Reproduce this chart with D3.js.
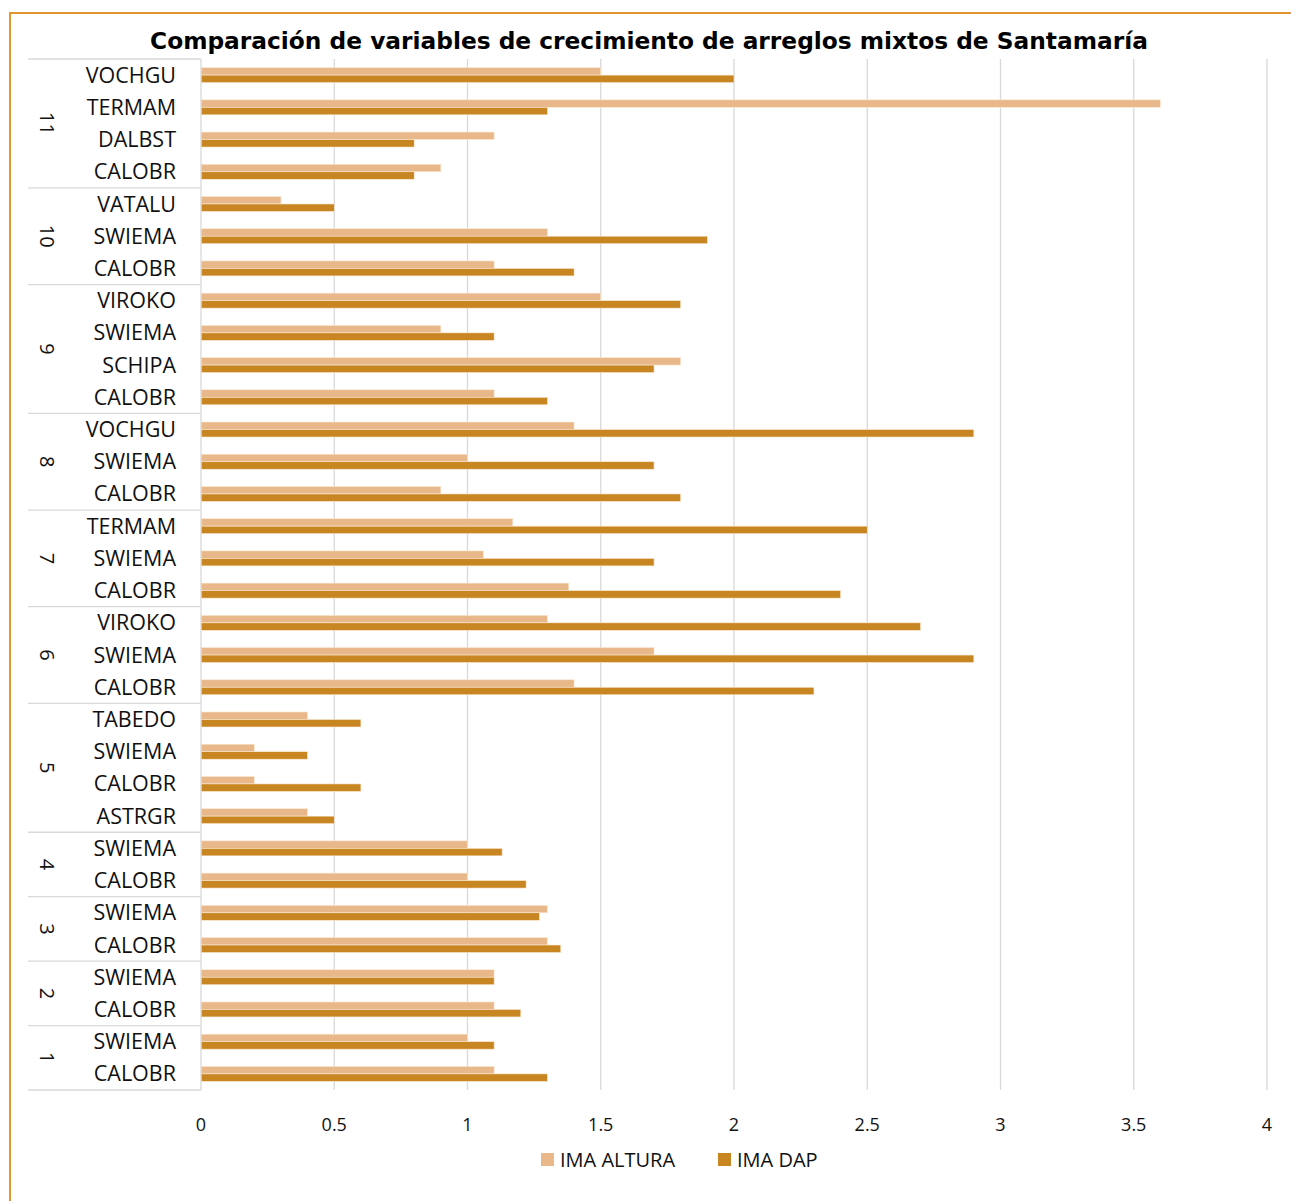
<!DOCTYPE html>
<html>
<head>
<meta charset="utf-8">
<script src="https://cdn.jsdelivr.net/npm/d3@7"></script>
<style>
  body { margin: 0; background: #fff; }
  svg { display: block; }
</style>
</head>
<body>
<div id="chart"></div>
<script>
// rows from top to bottom
var arreglos = ['11','11','11','11','10','10','10','9','9','9','9','8','8','8','7','7','7',
    '6','6','6','5','5','5','5','4','4','3','3','2','2','1','1'];
var especies = ['VOCHGU','TERMAM','DALBST','CALOBR','VATALU','SWIEMA','CALOBR',
    'VIROKO','SWIEMA','SCHIPA','CALOBR','VOCHGU','SWIEMA','CALOBR',
    'TERMAM','SWIEMA','CALOBR','VIROKO','SWIEMA','CALOBR',
    'TABEDO','SWIEMA','CALOBR','ASTRGR','SWIEMA','CALOBR','SWIEMA','CALOBR',
    'SWIEMA','CALOBR','SWIEMA','CALOBR'];
var imaAltura = [1.5, 3.6, 1.1, 0.9, 0.3, 1.3, 1.1, 1.5, 0.9, 1.8, 1.1, 1.4, 1.0, 0.9,
    1.17, 1.06, 1.38, 1.3, 1.7, 1.4, 0.4, 0.2, 0.2, 0.4, 1.0, 1.0, 1.3, 1.3,
    1.1, 1.1, 1.0, 1.1];
var imaDap = [2.0, 1.3, 0.8, 0.8, 0.5, 1.9, 1.4, 1.8, 1.1, 1.7, 1.3, 2.9, 1.7, 1.8,
    2.5, 1.7, 2.4, 2.7, 2.9, 2.3, 0.6, 0.4, 0.6, 0.5, 1.13, 1.22, 1.27, 1.35,
    1.1, 1.2, 1.1, 1.3];
var series = ['IMA ALTURA', 'IMA DAP'];
var colores = ['#E8B88B', '#C88622'];
var ticks = [0, 0.5, 1, 1.5, 2, 2.5, 3, 3.5, 4];
var titulo = 'Comparación de variables de crecimiento de arreglos mixtos de Santamaría';

var W = 1291, H = 1201;
var plotL = 201, plotR = 1267, plotT = 59, plotB = 1090;
var font = '"Open Sans", sans-serif';

var svg = d3.select('#chart')
    .append('svg')
    .attr('width', W)
    .attr('height', H);

svg.append('rect')
    .attr('x', 10).attr('y', 13)
    .attr('width', 1300).attr('height', 1220)
    .attr('fill', '#fff')
    .attr('stroke', '#E3962F')
    .attr('stroke-width', 2);

var x = d3.scaleLinear().domain([0, 4]).range([plotL, plotR]);
var y = d3.scaleBand().domain(d3.range(especies.length)).range([plotT, plotB]);
var inner = d3.scaleBand().domain(series).range([0, 15]);

// gridlines
svg.append('g')
    .selectAll('line')
    .data(ticks.slice(1))
    .enter()
    .append('line')
        .attr('x1', function(d) { return x(d); })
        .attr('x2', function(d) { return x(d); })
        .attr('y1', plotT)
        .attr('y2', plotB)
        .attr('stroke', '#d9d9d9')
        .attr('stroke-width', 1.3);

// bars
var rows = svg.append('g')
    .selectAll('g')
    .data(especies)
    .enter()
    .append('g')
        .attr('transform', function(d, i) {
            return 'translate(0,' + (y(i) + y.bandwidth() / 2 - 7.5) + ')';
        });

rows.selectAll('rect')
    .data(function(d, i) { return [imaAltura[i], imaDap[i]]; })
    .enter()
    .append('rect')
        .attr('x', x(0))
        .attr('y', function(d, j) { return inner(series[j]); })
        .attr('height', inner.bandwidth())
        .attr('width', function(d) { return x(d) - x(0); })
        .attr('fill', function(d, j) { return colores[j]; })
        .attr('stroke', '#fbe9d6')
        .attr('stroke-width', 0.6);

// category axis
var axis = svg.append('g');
axis.append('line')
    .attr('x1', plotL).attr('x2', plotL)
    .attr('y1', plotT).attr('y2', plotB)
    .attr('stroke', '#d9d9d9').attr('stroke-width', 1.3);

axis.selectAll('text.esp')
    .data(especies)
    .enter()
    .append('text')
        .attr('class', 'esp')
        .attr('x', 176)
        .attr('y', function(d, i) { return y(i) + y.bandwidth() / 2; })
        .attr('dy', '0.35em')
        .attr('text-anchor', 'end')
        .style('font-family', font)
        .style('font-size', '21.5px')
        .attr('fill', '#111')
        .text(function(d) { return d; });

// group spans
var grupos = [];
arreglos.forEach(function(a, i) {
    var g = grupos[grupos.length - 1];
    if (g && g.name === a) g.end = i;
    else grupos.push({ name: a, start: i, end: i });
});

axis.selectAll('line.sep')
    .data([0].concat(grupos.map(function(g) { return g.end + 1; })))
    .enter()
    .append('line')
        .attr('class', 'sep')
        .attr('x1', 28).attr('x2', plotL)
        .attr('y1', function(d) { return d < especies.length ? y(d) : plotB; })
        .attr('y2', function(d) { return d < especies.length ? y(d) : plotB; })
        .attr('stroke', '#d9d9d9').attr('stroke-width', 1.3);

axis.selectAll('text.grp')
    .data(grupos)
    .enter()
    .append('text')
        .attr('class', 'grp')
        .attr('transform', function(g) {
            var cy = (y(g.start) + y(g.end) + y.bandwidth()) / 2;
            return 'translate(47,' + cy + ') rotate(90)';
        })
        .attr('text-anchor', 'middle')
        .attr('dy', '0.35em')
        .style('font-family', font)
        .style('font-size', '20px')
        .attr('fill', '#111')
        .text(function(g) { return g.name; });

// value axis labels
svg.append('g')
    .selectAll('text')
    .data(ticks)
    .enter()
    .append('text')
        .attr('x', function(d) { return x(d); })
        .attr('y', 1131)
        .attr('text-anchor', 'middle')
        .style('font-family', font)
        .style('font-size', '18px')
        .attr('fill', '#111')
        .text(function(d) { return d; });

// title
svg.append('text')
    .attr('x', 649)
    .attr('y', 49)
    .attr('text-anchor', 'middle')
    .style('font-family', '"DejaVu Sans", sans-serif')
    .style('font-weight', 'bold')
    .style('font-size', '23.3px')
    .attr('fill', '#000')
    .text(titulo);

// legend
var legend = svg.append('g')
    .selectAll('g')
    .data(series)
    .enter()
    .append('g')
        .attr('transform', function(d, i) { return 'translate(' + [541, 718][i] + ',1153)'; });

legend.append('rect')
    .attr('width', 13).attr('height', 13)
    .attr('fill', function(d, i) { return colores[i]; });

legend.append('text')
    .attr('x', 19).attr('y', 7)
    .attr('dy', '0.35em')
    .style('font-family', font)
    .style('font-size', '20px')
    .attr('fill', '#111')
    .text(function(d) { return d; });
</script>
</body>
</html>
